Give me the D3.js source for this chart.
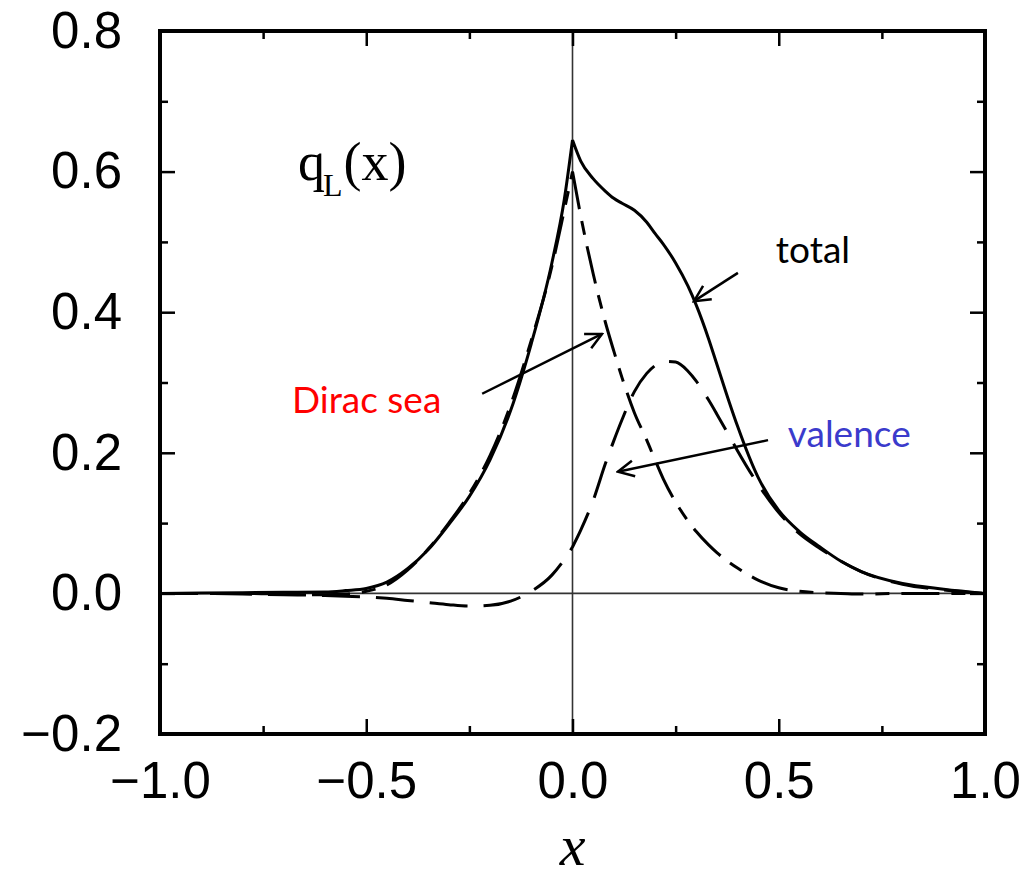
<!DOCTYPE html>
<html lang="en">
<head>
    <meta charset="UTF-8">
    <title>q_L(x) distribution</title>
    <script src="https://d3js.org/d3.v7.min.js"></script>
    <style>
        body { margin: 0; background: #fff; }
        .tick text { font-family: "Liberation Sans", Arial, sans-serif; font-size: 51px; fill: #000; }
    </style>
</head>
<body>
    <svg width="1030" height="879"></svg>

    <script>
        // x grid shared by the three curves
        const xs = [-1, -0.9, -0.8, -0.7, -0.6, -0.55, -0.5, -0.45, -0.4, -0.35, -0.3, -0.25, -0.2, -0.15,
            -0.1, -0.05, -0.02, 0, 0.02, 0.05, 0.08, 0.1, 0.12, 0.15, 0.18, 0.2, 0.22, 0.25, 0.28, 0.3,
            0.33, 0.35, 0.38, 0.4, 0.45, 0.5, 0.55, 0.6, 0.65, 0.7, 0.8, 0.9, 1];

        const total = [0, 0.0005, 0.001, 0.0015, 0.002, 0.004, 0.007, 0.016, 0.035, 0.062, 0.098, 0.138, 0.19, 0.26,
            0.355, 0.47, 0.56, 0.645, 0.615, 0.59, 0.572, 0.562, 0.555, 0.545, 0.528, 0.512, 0.497, 0.47, 0.437, 0.41,
            0.362, 0.326, 0.272, 0.238, 0.165, 0.118, 0.088, 0.066, 0.046, 0.031, 0.014, 0.006, 0];

        const diracSea = [0, 0, 0, -0.001, -0.002, -0.001, 0.003, 0.012, 0.033, 0.063, 0.1, 0.142, 0.196, 0.268,
            0.36, 0.465, 0.545, 0.6, 0.537, 0.455, 0.385, 0.345, 0.307, 0.257, 0.218, 0.19, 0.163, 0.13, 0.103, 0.088,
            0.069, 0.058, 0.044, 0.036, 0.019, 0.008, 0.003, 0.001, 0, -0.001, 0, 0, 0];

        const valence = [0, 0, -0.001, -0.002, -0.003, -0.004, -0.005, -0.007, -0.01, -0.013, -0.016, -0.018, -0.017, -0.011,
            0.003, 0.026, 0.048, 0.066, 0.09, 0.132, 0.185, 0.217, 0.247, 0.287, 0.313, 0.324, 0.33, 0.329, 0.316, 0.302,
            0.275, 0.255, 0.224, 0.203, 0.155, 0.115, 0.085, 0.064, 0.046, 0.031, 0.013, 0.005, 0];

        const xMajor = [-1, -0.5, 0, 0.5, 1];
        const xMinor = [-0.75, -0.25, 0.25, 0.75];
        const yMajor = [-0.2, 0, 0.2, 0.4, 0.6, 0.8];
        const yMinor = [-0.1, 0.1, 0.3, 0.5, 0.7];

        // annotations in data coordinates
        const labels = [
            { text: "total", x: 0.493, y: 0.47, color: "#000" },
            { text: "Dirac sea", x: -0.68, y: 0.257, color: "#ff0000" },
            { text: "valence", x: 0.522, y: 0.208, color: "#3b3bcc" }
        ];
        const arrows = [
            { x1: 0.401, y1: 0.456, x2: 0.2945, y2: 0.4157 },
            { x1: -0.219, y1: 0.284, x2: 0.0715, y2: 0.369 },
            { x1: 0.474, y1: 0.218, x2: 0.11, y2: 0.173 }
        ];

        const svg = d3.select("svg");
        const plotLeft = 160, plotRight = 985, plotTop = 31, plotBottom = 734;

        const x = d3.scaleLinear().domain([-1, 1]).range([plotLeft, plotRight]);
        const y = d3.scaleLinear().domain([-0.2, 0.8]).range([plotBottom, plotTop]);

        // zero lines
        svg.append("line")
            .attr("x1", plotLeft).attr("x2", plotRight)
            .attr("y1", y(0)).attr("y2", y(0))
            .attr("stroke", "#333").attr("stroke-width", 1.6);
        svg.append("line")
            .attr("x1", x(0)).attr("x2", x(0))
            .attr("y1", plotTop).attr("y2", plotBottom)
            .attr("stroke", "#333").attr("stroke-width", 1.6);

        // axes with inward ticks
        function tidy(g) {
            g.select(".domain").remove();
            g.selectAll(".tick line").attr("stroke", "#000").attr("stroke-width", 2.5);
        }
        const fmt = d3.format(".1f");

        svg.append("g").attr("transform", `translate(0,${plotBottom})`)
            .call(d3.axisBottom(x).tickValues(xMajor).tickSizeInner(-15).tickSizeOuter(0).tickPadding(28).tickFormat(fmt))
            .call(tidy);
        svg.append("g").attr("transform", `translate(0,${plotBottom})`)
            .call(d3.axisBottom(x).tickValues(xMinor).tickSizeInner(-8).tickSizeOuter(0).tickFormat(""))
            .call(tidy);
        svg.append("g").attr("transform", `translate(0,${plotTop})`)
            .call(d3.axisTop(x).tickValues(xMajor).tickSizeInner(-15).tickSizeOuter(0).tickFormat(""))
            .call(tidy);
        svg.append("g").attr("transform", `translate(0,${plotTop})`)
            .call(d3.axisTop(x).tickValues(xMinor).tickSizeInner(-8).tickSizeOuter(0).tickFormat(""))
            .call(tidy);

        svg.append("g").attr("transform", `translate(${plotLeft},0)`)
            .call(d3.axisLeft(y).tickValues(yMajor).tickSizeInner(-15).tickSizeOuter(0).tickPadding(38).tickFormat(fmt))
            .call(tidy);
        svg.append("g").attr("transform", `translate(${plotLeft},0)`)
            .call(d3.axisLeft(y).tickValues(yMinor).tickSizeInner(-8).tickSizeOuter(0).tickFormat(""))
            .call(tidy);
        svg.append("g").attr("transform", `translate(${plotRight},0)`)
            .call(d3.axisRight(y).tickValues(yMajor).tickSizeInner(-15).tickSizeOuter(0).tickFormat(""))
            .call(tidy);
        svg.append("g").attr("transform", `translate(${plotRight},0)`)
            .call(d3.axisRight(y).tickValues(yMinor).tickSizeInner(-8).tickSizeOuter(0).tickFormat(""))
            .call(tidy);

        // frame
        svg.append("rect")
            .attr("x", plotLeft).attr("y", plotTop)
            .attr("width", plotRight - plotLeft).attr("height", plotBottom - plotTop)
            .attr("fill", "none").attr("stroke", "#000").attr("stroke-width", 4);

        // curves, split at the cusp x = 0 so the peak stays sharp
        const line = d3.line()
            .x(d => x(d[0]))
            .y(d => y(d[1]))
            .curve(d3.curveMonotoneX);

        function cuspPath(values) {
            const pts = xs.map((v, i) => [v, values[i]]);
            return line(pts.filter(d => d[0] <= 0)) + line(pts.filter(d => d[0] >= 0));
        }

        svg.append("path")
            .attr("d", cuspPath(valence))
            .attr("fill", "none").attr("stroke", "#000").attr("stroke-width", 3)
            .attr("stroke-dasharray", "38,16");

        svg.append("path")
            .attr("d", cuspPath(diracSea))
            .attr("fill", "none").attr("stroke", "#000").attr("stroke-width", 3)
            .attr("stroke-dasharray", "38,12,14,12");

        svg.append("path")
            .attr("d", cuspPath(total))
            .attr("fill", "none").attr("stroke", "#000").attr("stroke-width", 3);

        // axis title
        svg.append("text")
            .attr("x", x(0)).attr("y", 865)
            .attr("text-anchor", "middle")
            .attr("font-family", "Liberation Serif, serif")
            .attr("font-style", "italic")
            .attr("font-size", 58)
            .text("x");

        // q_L(x) label
        const q = svg.append("text")
            .attr("font-family", "Liberation Serif, serif")
            .attr("font-size", 54)
            .attr("x", x(-0.6655)).attr("y", y(0.588));
        q.append("tspan").text("q");
        q.append("tspan").attr("font-size", 32).attr("dy", 16).attr("dx", -2).text("L");
        q.append("tspan").attr("dy", -16).attr("dx", 1).text("(x)");

        // arrows
        svg.append("defs").append("marker")
            .attr("id", "head")
            .attr("viewBox", "0 0 20 20")
            .attr("refX", 18).attr("refY", 10)
            .attr("markerWidth", 20).attr("markerHeight", 20)
            .attr("markerUnits", "userSpaceOnUse")
            .attr("orient", "auto")
            .append("path")
            .attr("d", "M2,2 L18,10 L2,18")
            .attr("fill", "none").attr("stroke", "#000").attr("stroke-width", 2.5);

        svg.selectAll(".arrow")
            .data(arrows)
            .join("line")
            .attr("class", "arrow")
            .attr("x1", d => x(d.x1)).attr("y1", d => y(d.y1))
            .attr("x2", d => x(d.x2)).attr("y2", d => y(d.y2))
            .attr("stroke", "#000").attr("stroke-width", 2.5)
            .attr("marker-end", "url(#head)");

        svg.selectAll(".label")
            .data(labels)
            .join("text")
            .attr("class", "label")
            .attr("x", d => x(d.x)).attr("y", d => y(d.y))
            .attr("font-family", "Lato, 'Open Sans', sans-serif")
            .attr("font-size", 37)
            .attr("fill", d => d.color)
            .text(d => d.text);
    </script>
</body>
</html>
